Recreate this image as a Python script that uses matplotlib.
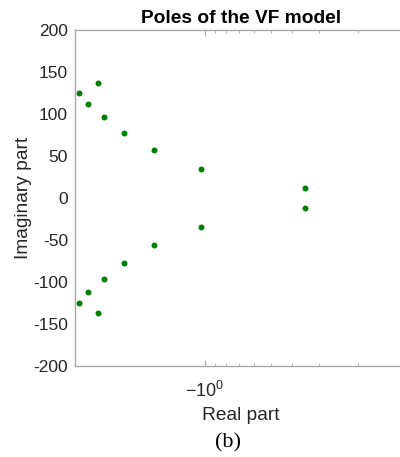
import matplotlib
matplotlib.use("Agg")
import matplotlib.pyplot as plt
from matplotlib.ticker import LogLocator, FixedLocator, FuncFormatter, NullFormatter
import numpy as np

# Pole data (real parts negative; plotted on a negative-log axis)
real_part = [-3.77, -3.44, -3.10, -2.90, -2.35, -1.71, -1.04, -0.350,
             -3.77, -3.44, -3.10, -2.90, -2.35, -1.71, -1.04, -0.350]
imag_part = [125.5, 112.0, 136.5, 96.0, 77.0, 57.0, 35.0, 12.0,
             -125.5, -112.0, -136.5, -96.0, -77.0, -56.5, -34.5, -11.5]
yticks = [-200, -150, -100, -50, 0, 50, 100, 150, 200]
minor_mags = [0.2, 0.3, 0.4, 0.5, 0.6, 0.7, 0.8, 0.9]

plt.rcParams['font.family'] = ['Liberation Sans', 'DejaVu Sans']
plt.rcParams['mathtext.default'] = 'regular'
plt.rcParams['axes.unicode_minus'] = False

fig = plt.figure(figsize=(4.0, 4.57), dpi=100)
ax = fig.add_axes([75/400, 91/457, 332/400, 336/457])

mag = np.abs(np.array(real_part))
ax.plot(mag, imag_part, 'o', color='#008000', markersize=4.3, markeredgewidth=0)

ax.set_xscale('log')
ax.set_xlim(3.94, 0.119)
ax.set_ylim(-200, 200)
ax.set_yticks(yticks)

ax.xaxis.set_major_locator(LogLocator(base=10))
ax.xaxis.set_minor_locator(FixedLocator(minor_mags))
ax.xaxis.set_major_formatter(FuncFormatter(
    lambda v, p: r'$\mathdefault{-10^{%d}}$' % int(round(np.log10(v)))))
ax.xaxis.set_minor_formatter(NullFormatter())

spine_c = '#a8a8a8'
text_c = '#262626'
for s in ['left', 'bottom', 'top']:
    ax.spines[s].set_color(spine_c)
    ax.spines[s].set_linewidth(1.0)
ax.spines['right'].set_visible(False)

ax.tick_params(axis='x', which='both', direction='in', top=True, bottom=True,
               colors=spine_c, labelcolor=text_c, labelsize=13, pad=11)
ax.tick_params(axis='x', which='major', length=4)
ax.tick_params(axis='x', which='minor', length=2.5)
ax.tick_params(axis='y', which='both', length=0, labelcolor=text_c, labelsize=12.5, pad=5)

ax.set_xlabel('Real part', fontsize=13.8, color=text_c, labelpad=4)
ax.set_ylabel('Imaginary part', fontsize=13.8, color=text_c, labelpad=1)
ax.set_title('Poles of the VF model', fontsize=13.8, fontweight='bold', color='black', pad=5)

fig.text(228/400, 1 - 443/457, '(b)', fontsize=16, family=['Liberation Serif', 'DejaVu Serif'],
         ha='center', va='center', color='black')

fig.savefig('out.png', dpi=100, facecolor='white')
